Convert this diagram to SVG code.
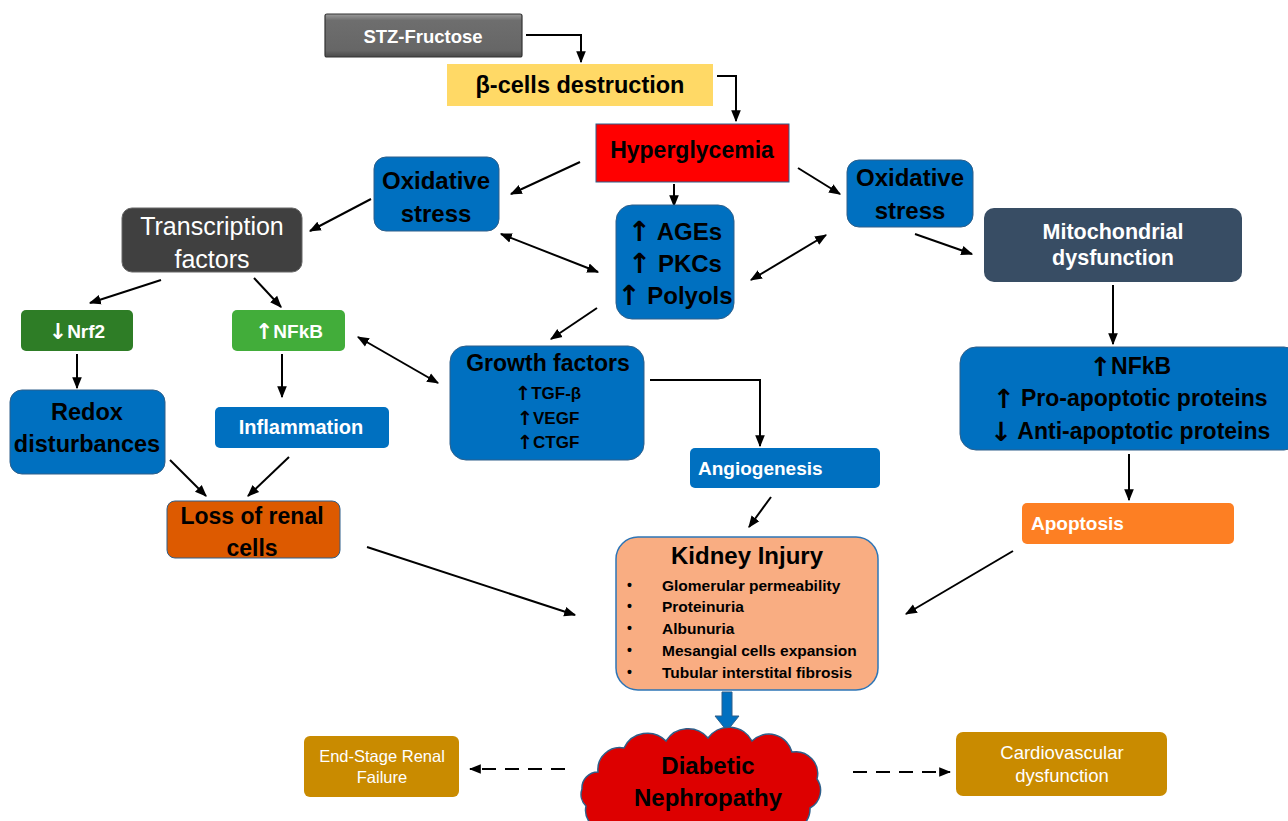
<svg xmlns="http://www.w3.org/2000/svg" width="1288" height="821" viewBox="0 0 1288 821">
<defs>
<marker id="ah" viewBox="0 0 10 10" refX="9" refY="5" markerWidth="6" markerHeight="6" orient="auto-start-reverse" markerUnits="strokeWidth">
<path d="M0,1 L10,5 L0,9 Z" fill="#000"/>
</marker>
<linearGradient id="gray" x1="0" y1="0" x2="0" y2="1">
<stop offset="0" stop-color="#9a9a9a"/><stop offset="0.15" stop-color="#6e6e6e"/><stop offset="0.85" stop-color="#666"/><stop offset="1" stop-color="#4a4a4a"/>
</linearGradient>
</defs>
<style>
text{font-family:"Liberation Sans",Arial,sans-serif;font-weight:bold;text-anchor:middle;dominant-baseline:central}
.ar{font-family:"DejaVu Sans",sans-serif;font-weight:bold;font-size:1.15em}
.w{fill:#fff}
.k{fill:#000}
.n{font-weight:normal}
.s{text-anchor:start}
.blue{fill:#0070c0;stroke:#2e5f8a;stroke-width:1}
.c{fill:none;stroke:#000;stroke-width:2}
.a{marker-end:url(#ah)}
.d{marker-start:url(#ah);marker-end:url(#ah)}
.dash{stroke-dasharray:14 9}
</style>
<rect width="1288" height="821" fill="#fff"/>

<g id="connectors">
<path class="c a" d="M526,35 H581 V62"/>
<path class="c a" d="M717,76 H736 V121"/>
<line class="c a" x1="580" y1="162" x2="511" y2="194"/>
<line class="c a" x1="798" y1="168" x2="840" y2="194"/>
<line class="c a" x1="674" y1="184" x2="674" y2="206"/>
<line class="c d" x1="501" y1="234" x2="598" y2="272"/>
<line class="c d" x1="751" y1="280" x2="826" y2="235"/>
<line class="c a" x1="371" y1="199" x2="310" y2="231"/>
<line class="c a" x1="161" y1="280" x2="90" y2="303"/>
<line class="c a" x1="254" y1="278" x2="281" y2="307"/>
<line class="c a" x1="77" y1="354" x2="77" y2="388"/>
<line class="c a" x1="282" y1="354" x2="282" y2="397"/>
<line class="c d" x1="358" y1="337" x2="438" y2="383"/>
<line class="c a" x1="597" y1="308" x2="551" y2="339"/>
<path class="c a" d="M650,380 H760 V446"/>
<line class="c a" x1="771" y1="497" x2="749" y2="527"/>
<line class="c a" x1="170" y1="460" x2="206" y2="496"/>
<line class="c a" x1="289" y1="457" x2="248" y2="496"/>
<line class="c a" x1="367" y1="547" x2="575" y2="615"/>
<line class="c a" x1="915" y1="234" x2="972" y2="254"/>
<line class="c a" x1="1113" y1="285" x2="1113" y2="344"/>
<line class="c a" x1="1129" y1="454" x2="1129" y2="500"/>
<line class="c a" x1="1013" y1="551" x2="906" y2="614"/>
<line class="c a dash" x1="565" y1="769" x2="470" y2="769"/>
<line class="c a dash" x1="853" y1="772" x2="950" y2="772"/>
<path d="M722,692 H732 V716 H739 L727,731 L715,716 H722 Z" fill="#0070c0" stroke="#2e5f8a" stroke-width="1"/>
</g>

<g id="stz">
<rect x="325" y="14" width="197" height="43" rx="2" fill="url(#gray)" stroke="#333" stroke-width="1.2"/>
<text class="w" x="423" y="36" font-size="18.5">STZ-Fructose</text>
</g>
<g id="beta">
<rect x="447" y="64" width="266" height="42" fill="#ffd966"/>
<text class="k" x="580" y="85" font-size="23.5">β-cells destruction</text>
</g>
<g id="hyper">
<rect x="596" y="124" width="193" height="58" fill="#ff0000" stroke="#2e5f8a" stroke-width="1"/>
<text class="k" x="692" y="150" font-size="23">Hyperglycemia</text>
</g>
<g id="ox-left">
<rect class="blue" x="374" y="157" width="125" height="74" rx="12"/>
<text class="k" x="436" y="180" font-size="24">Oxidative</text>
<text class="k" x="436" y="213" font-size="24">stress</text>
</g>
<g id="ox-right">
<rect class="blue" x="847" y="160" width="126" height="67" rx="12"/>
<text class="k" x="910" y="177" font-size="24">Oxidative</text>
<text class="k" x="910" y="210" font-size="24">stress</text>
</g>
<g id="ages">
<rect class="blue" x="616" y="205" width="118" height="114" rx="16"/>
<text class="k" x="675" y="231" font-size="24"><tspan class="ar">↑</tspan> AGEs</text>
<text class="k" x="675" y="263" font-size="24"><tspan class="ar">↑</tspan> PKCs</text>
<text class="k" x="675" y="295" font-size="24"><tspan class="ar">↑</tspan> Polyols</text>
</g>
<g id="tf">
<rect x="122" y="208" width="180" height="64" rx="10" fill="#404040" stroke="#666" stroke-width="1"/>
<text class="w n" x="212" y="226" font-size="25">Transcription</text>
<text class="w n" x="212" y="259" font-size="25">factors</text>
</g>
<g id="nrf2">
<rect x="21" y="310" width="112" height="41" rx="5" fill="#2e7d26"/>
<text class="w" x="77" y="331" font-size="19"><tspan class="ar">↓</tspan>Nrf2</text>
</g>
<g id="nfkb">
<rect x="232" y="310" width="113" height="41" rx="5" fill="#42ad3a"/>
<text class="w" x="289" y="331" font-size="19"><tspan class="ar">↑</tspan>NFkB</text>
</g>
<g id="redox">
<rect class="blue" x="10" y="390" width="155" height="84" rx="12"/>
<text class="k" x="87" y="412" font-size="23.5">Redox</text>
<text class="k" x="87" y="444" font-size="23.5">disturbances</text>
</g>
<g id="inflammation">
<rect x="215" y="407" width="174" height="41" rx="5" fill="#0070c0"/>
<text class="w" x="301" y="427" font-size="20">Inflammation</text>
</g>
<g id="growth">
<rect class="blue" x="450" y="346" width="194" height="114" rx="16"/>
<text class="k" x="548" y="363" font-size="23">Growth factors</text>
<text class="k" x="548" y="393" font-size="17"><tspan class="ar">↑</tspan>TGF-β</text>
<text class="k" x="548" y="418" font-size="17"><tspan class="ar">↑</tspan>VEGF</text>
<text class="k" x="548" y="442" font-size="17"><tspan class="ar">↑</tspan>CTGF</text>
</g>
<g id="angio">
<rect x="690" y="448" width="190" height="40" rx="5" fill="#0070c0"/>
<text class="w s" x="698" y="468" font-size="19">Angiogenesis</text>
</g>
<g id="loss">
<rect x="167" y="501" width="173" height="57" rx="8" fill="#dd5a00" stroke="#2e5f8a" stroke-width="1"/>
<text class="k" x="252" y="516" font-size="23">Loss of renal</text>
<text class="k" x="252" y="548" font-size="23">cells</text>
</g>
<g id="mito">
<rect x="984" y="208" width="258" height="74" rx="10" fill="#384d64"/>
<text class="w" x="1113" y="232" font-size="21.5">Mitochondrial</text>
<text class="w" x="1113" y="258" font-size="21.5">dysfunction</text>
</g>
<g id="apopt-box">
<rect class="blue" x="960" y="347" width="340" height="103" rx="16"/>
<text class="k" x="1130" y="366" font-size="23"><tspan class="ar">↑</tspan>NFkB</text>
<text class="k" x="1130" y="398" font-size="23"><tspan class="ar">↑</tspan> Pro-apoptotic proteins</text>
<text class="k" x="1130" y="431" font-size="23"><tspan class="ar">↓</tspan> Anti-apoptotic proteins</text>
</g>
<g id="apoptosis">
<rect x="1022" y="503" width="212" height="41" rx="5" fill="#fd7f23"/>
<text class="w s" x="1031" y="523" font-size="19">Apoptosis</text>
</g>
<g id="kidney">
<rect x="616" y="537" width="262" height="153" rx="22" fill="#f9ad82" stroke="#2e75b6" stroke-width="1.5"/>
<text class="k" x="747" y="555" font-size="24">Kidney Injury</text>
<text class="k s" x="627" y="585" font-size="14">•</text>
<text class="k s" x="627" y="606" font-size="14">•</text>
<text class="k s" x="627" y="628" font-size="14">•</text>
<text class="k s" x="627" y="650" font-size="14">•</text>
<text class="k s" x="627" y="672" font-size="14">•</text>
<text class="k s" x="662" y="585" font-size="15.5">Glomerular permeability</text>
<text class="k s" x="662" y="606" font-size="15.5">Proteinuria</text>
<text class="k s" x="662" y="628" font-size="15.5">Albunuria</text>
<text class="k s" x="662" y="650" font-size="15.5">Mesangial cells expansion</text>
<text class="k s" x="662" y="672" font-size="15.5">Tubular interstital fibrosis</text>
</g>
<g id="dn">
<path d="M598,772 A22,22 0 0 1 624,748 A26,26 0 0 1 666,741 A26,26 0 0 1 708,738 A26,26 0 0 1 752,741 A24,24 0 0 1 792,752 A22,22 0 0 1 817,779 A20,20 0 0 1 810,808 A22,22 0 0 1 782,830 L608,830 A20,20 0 0 1 586,806 A16,16 0 0 1 582,789 A16,16 0 0 1 598,772 Z" fill="#dd0000" stroke="#2e5f8a" stroke-width="1.5"/>
<text class="k" x="708" y="765" font-size="24">Diabetic</text>
<text class="k" x="708" y="797" font-size="24">Nephropathy</text>
</g>
<g id="esrf">
<rect x="304" y="736" width="155" height="61" rx="6" fill="#c98b00"/>
<text class="w n" x="382" y="756" font-size="16.5">End-Stage Renal</text>
<text class="w n" x="382" y="777" font-size="16.5">Failure</text>
</g>
<g id="cvd">
<rect x="956" y="732" width="211" height="64" rx="7" fill="#c98b00"/>
<text class="w n" x="1062" y="752" font-size="18.5">Cardiovascular</text>
<text class="w n" x="1062" y="775" font-size="18.5">dysfunction</text>
</g>
</svg>
